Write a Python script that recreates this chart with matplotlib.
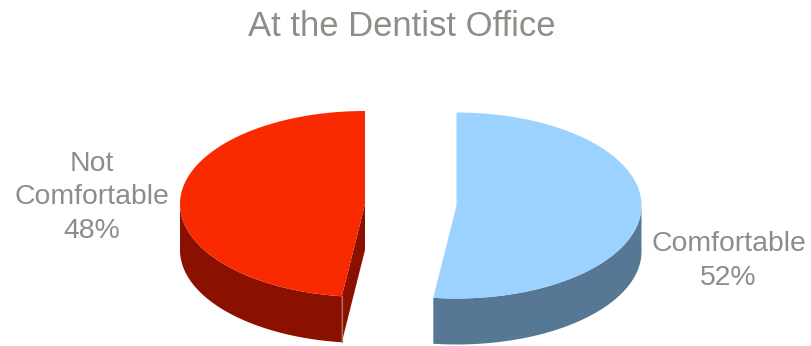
import numpy as np
import matplotlib
matplotlib.use("Agg")
import matplotlib.pyplot as plt
from matplotlib.patches import Polygon

# =========================
# DATA
# =========================
title = "At the Dentist Office"
categories = ["Comfortable", "Not\nComfortable"]
shares = [52, 48]

top_colors = ["#9cd2ff", "#f92a00"]
side_colors = ["#577895", "#8a1000"]
text_color = "#8e8e88"

# =========================
# PIE GEOMETRY (pixels)
# =========================
RX = 185
RY = 93
DEPTH = 46
centers = [(456.5, 205.5), (365, 204)]
label_pos = [(728.5, 261), (91.5, 197.5)]


def rim(center, t1, t2, n=200):
    # angles are clockwise from 12 o'clock, as in a normal pie
    t = np.radians(np.linspace(t1, t2, n))
    return np.column_stack([center[0] + RX * np.sin(t), center[1] - RY * np.cos(t)])


def drop(points):
    return points + np.array([0, DEPTH])


def draw_slice(ax, center, t1, t2, top, side):
    # outer wall: only the part of the rim facing the viewer
    a = max(t1, 90)
    b = min(t2, 270)
    if a < b:
        arc = rim(center, a, b)
        wall = np.vstack([arc, drop(arc)[::-1]])
        ax.add_patch(Polygon(wall, closed=True, fc=side, ec="none", zorder=2))

    # cut wall on the left slice, seen from the right
    edge = rim(center, t1, t1, 1)[0]
    if t1 > 180 and t1 < 270 and center[0] < 400:
        cut = np.array([center, edge, edge + [0, DEPTH], np.array(center) + [0, DEPTH]])
        ax.add_patch(Polygon(cut, closed=True, fc=side, ec="none", zorder=2))
        ax.plot([edge[0], edge[0]], [edge[1], edge[1] + DEPTH], color="#b9726a", lw=0.8, zorder=3)

    face = np.vstack([[center], rim(center, t1, t2)])
    ax.add_patch(Polygon(face, closed=True, fc=top, ec="none", zorder=4))


# =========================
# FIGURE
# =========================
fig = plt.figure(figsize=(8.12, 3.46), dpi=100)
ax = fig.add_axes([0, 0, 1, 1])
ax.set_xlim(0, 812)
ax.set_ylim(346, 0)
ax.axis("off")

angle = 0
for i, share in enumerate(shares):
    sweep = share / sum(shares) * 360
    draw_slice(ax, centers[i], angle, angle + sweep, top_colors[i], side_colors[i])
    ax.text(label_pos[i][0], label_pos[i][1], f"{categories[i]}\n{share}%",
            ha="center", va="center", fontsize=20.4, color=text_color,
            family="Liberation Sans", linespacing=1.38, zorder=5)
    angle += sweep

ax.text(401.5, 26, title, ha="center", va="center", fontsize=24.9,
        color=text_color, family="Liberation Sans")

fig.savefig("out.png", dpi=100)
